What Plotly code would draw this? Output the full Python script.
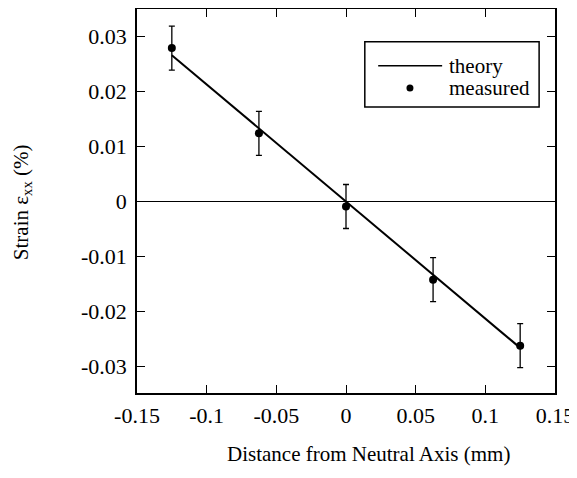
import plotly.graph_objects as go

# Data
x_measured = [-0.125, -0.0625, 0.0, 0.0625, 0.125]
y_measured = [0.0279, 0.0124, -0.0009, -0.0142, -0.0262]
y_error = [0.004, 0.004, 0.004, 0.004, 0.004]

x_theory = [-0.125, 0.125]
y_theory = [0.0266, -0.0266]

x_ticks = [-0.15, -0.1, -0.05, 0, 0.05, 0.1, 0.15]
x_ticklabels = ["-0.15", "-0.1", "-0.05", "0", "0.05", "0.1", "0.15"]
y_ticks = [-0.03, -0.02, -0.01, 0, 0.01, 0.02, 0.03]
y_ticklabels = ["-0.03", "-0.02", "-0.01", "0", "0.01", "0.02", "0.03"]

FONT = "Liberation Serif"
FS = 21
FS_TICK = 22

fig = go.Figure()
fig.add_trace(go.Scatter(
    x=x_theory, y=y_theory, mode="lines", name="theory",
    line=dict(color="black", width=2), showlegend=False))
fig.add_trace(go.Scatter(
    x=x_measured, y=y_measured, mode="markers", name="measured",
    marker=dict(color="black", size=8),
    error_y=dict(type="data", array=y_error, visible=True,
                 color="black", thickness=1.3, width=3),
    showlegend=False))

axis_common = dict(
    showline=True, linecolor="black", linewidth=1.5, mirror="ticks",
    ticks="inside", ticklen=8, tickwidth=1.2, tickcolor="black",
    showgrid=False, automargin=False,
    tickfont=dict(family=FONT, size=FS_TICK, color="black"),
)

fig.update_xaxes(
    range=[-0.15, 0.15], tickvals=x_ticks, ticktext=x_ticklabels,
    zeroline=False, ticklabelstandoff=2,
    **axis_common)
fig.update_yaxes(
    range=[-0.0348, 0.035], tickvals=y_ticks, ticktext=y_ticklabels,
    zeroline=True, zerolinecolor="black", zerolinewidth=1.3,
    ticklabelstandoff=4,
    **axis_common)

# Axis titles
fig.add_annotation(xref="paper", yref="paper", x=0.555, y=-0.159,
                   text="Distance from Neutral Axis (mm)", showarrow=False,
                   xanchor="center", yanchor="middle",
                   font=dict(family=FONT, size=FS, color="black"))
fig.add_annotation(xref="paper", yref="paper", x=-0.275, y=0.497,
                   text="Strain ε<sub>xx</sub> (%)", showarrow=False,
                   textangle=-90, xanchor="center", yanchor="middle",
                   font=dict(family=FONT, size=FS, color="black"))

# Custom legend (paper coordinates)
fig.add_shape(type="rect", xref="paper", yref="paper",
              x0=0.545, x1=0.962, y0=0.745, y1=0.915,
              line=dict(color="black", width=1.5), fillcolor="white")
fig.add_shape(type="line", xref="paper", yref="paper",
              x0=0.577, x1=0.730, y0=0.852, y1=0.852,
              line=dict(color="black", width=1.5))
fig.add_shape(type="circle", xref="paper", yref="paper",
              xsizemode="pixel", ysizemode="pixel",
              xanchor=0.653, yanchor=0.794,
              x0=-3.5, x1=3.5, y0=-3.5, y1=3.5,
              fillcolor="black", line=dict(color="black", width=0))
fig.add_annotation(xref="paper", yref="paper", x=0.742, y=0.852,
                   text="theory", showarrow=False,
                   xanchor="left", yanchor="middle",
                   font=dict(family=FONT, size=FS, color="black"))
fig.add_annotation(xref="paper", yref="paper", x=0.742, y=0.794,
                   text="measured", showarrow=False,
                   xanchor="left", yanchor="middle",
                   font=dict(family=FONT, size=FS, color="black"))

# The page body has an 8px default margin, so the figure is sized to fit
fig.update_layout(
    width=569, height=470,
    margin=dict(l=129, r=22, t=1, b=85),
    paper_bgcolor="white", plot_bgcolor="white",
    showlegend=False,
)

fig.write_html("out.html")
